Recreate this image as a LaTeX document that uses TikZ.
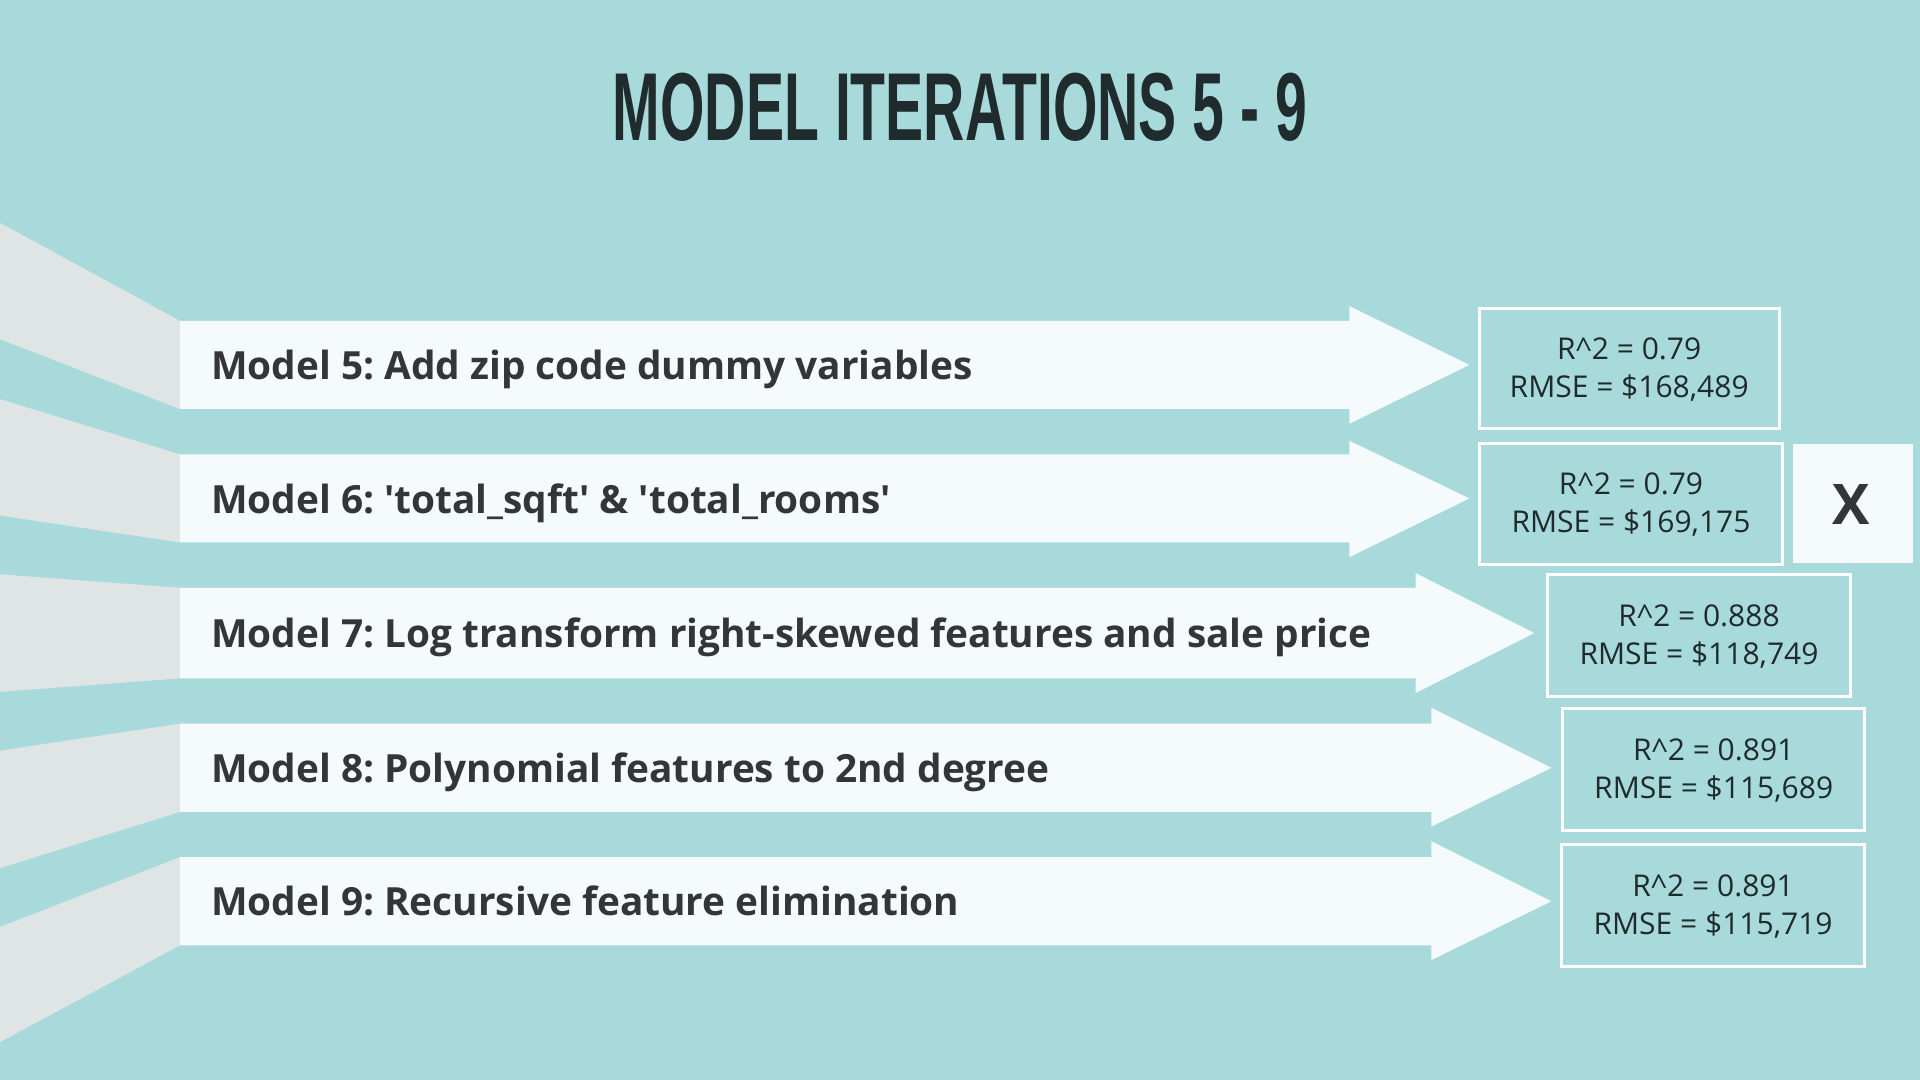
\documentclass[tikz,border=0pt]{standalone}
\usepackage{fontspec}
\setmainfont{Open Sans}
\newfontfamily\titlefont{Liberation Sans}
\usepackage{graphicx}
\definecolor{bgc}{HTML}{A8DADC}
\definecolor{barc}{HTML}{F5FBFC}
\definecolor{wedgec}{HTML}{DFE4E4}
\definecolor{txtc}{HTML}{333536}
\definecolor{titlec}{HTML}{1F2B2D}
\definecolor{boxtxt}{HTML}{1F2A2B}
\tikzset{
  wedge/.style={fill=wedgec},
  bararrow/.style={fill=barc},
  bartext/.style={anchor=base west, inner sep=0pt, text=txtc, font=\fontsize{19.4}{23}\selectfont\bfseries},
  resbox/.style={draw=white, line width=1.5pt},
  restext/.style={align=center, inner sep=0pt, text=boxtxt, font=\fontsize{15}{19}\selectfont},
  xbox/.style={fill=barc}
}
\frenchspacing
\begin{document}
\begin{tikzpicture}[x=0.6122pt, y=-0.6122pt]
\fill[bgc] (0,0) rectangle (1568,882);
\useasboundingbox (0,0) rectangle (1568,882);
% title
\node[inner sep=0pt, text=titlec] (title) at (784,88) {\resizebox{347pt}{33.7pt}{\titlefont\bfseries MODEL ITERATIONS 5 - 9}};
% wedges
\fill[wedge] (0,182) -- (147,262) -- (147,334) -- (0,277) -- cycle;
\fill[wedge] (0,326) -- (147,371) -- (147,443) -- (0,421) -- cycle;
\fill[wedge] (0,469) -- (147,480) -- (147,554) -- (0,565) -- cycle;
\fill[wedge] (0,613) -- (147,591) -- (147,663) -- (0,709) -- cycle;
\fill[wedge] (0,757) -- (147,700) -- (147,772) -- (0,851) -- cycle;
% arrows
\fill[bararrow] (147,262) -- (1102,262) -- (1102,250) -- (1200,298) -- (1102,346) -- (1102,334) -- (147,334) -- cycle;
\fill[bararrow] (147,371) -- (1102,371) -- (1102,360) -- (1200,407) -- (1102,455) -- (1102,443) -- (147,443) -- cycle;
\fill[bararrow] (147,480) -- (1156,480) -- (1156,468) -- (1253,517) -- (1156,566) -- (1156,554) -- (147,554) -- cycle;
\fill[bararrow] (147,591) -- (1169,591) -- (1169,578) -- (1267,627) -- (1169,675) -- (1169,663) -- (147,663) -- cycle;
\fill[bararrow] (147,700) -- (1169,700) -- (1169,687) -- (1267,736) -- (1169,784) -- (1169,772) -- (147,772) -- cycle;
% bar texts
\node[bartext] (t5) at (172,310) {Model 5: Add zip code dummy variables};
\node[bartext] (t6) at (172,419) {Model 6: \textquotesingle total\_sqft\textquotesingle\ \& \textquotesingle total\_rooms\textquotesingle};
\node[bartext] (t7) at (172,529) {Model 7: Log transform right-skewed features and sale price};
\node[bartext] (t8) at (172,639) {Model 8: Polynomial features to 2nd degree};
\node[bartext] (t9) at (172,748) {Model 9: Recursive feature elimination};
% result boxes
\draw[resbox] (1208,252) rectangle (1453,350);
\draw[resbox] (1208,362) rectangle (1456,461);
\draw[resbox] (1264,469) rectangle (1511,569);
\draw[resbox] (1276,579) rectangle (1523,678);
\draw[resbox] (1275,690) rectangle (1523,789);
\node[restext] (r5) at (1330.5,302) {R\textasciicircum 2 = 0.79\\RMSE = \$168,489};
\node[restext] (r6) at (1332,412) {R\textasciicircum 2 = 0.79\\RMSE = \$169,175};
\node[restext] (r7) at (1387.5,520) {R\textasciicircum 2 = 0.888\\RMSE = \$118,749};
\node[restext] (r8) at (1399.5,629) {R\textasciicircum 2 = 0.891\\RMSE = \$115,689};
\node[restext] (r9) at (1399,740) {R\textasciicircum 2 = 0.891\\RMSE = \$115,719};
% X box
\fill[xbox] (1464,363) rectangle (1562,460);
\node[inner sep=0pt, text=txtc, font=\fontsize{28}{30}\selectfont\bfseries] (xm) at (1512,412) {X};
\end{tikzpicture}
\end{document}
